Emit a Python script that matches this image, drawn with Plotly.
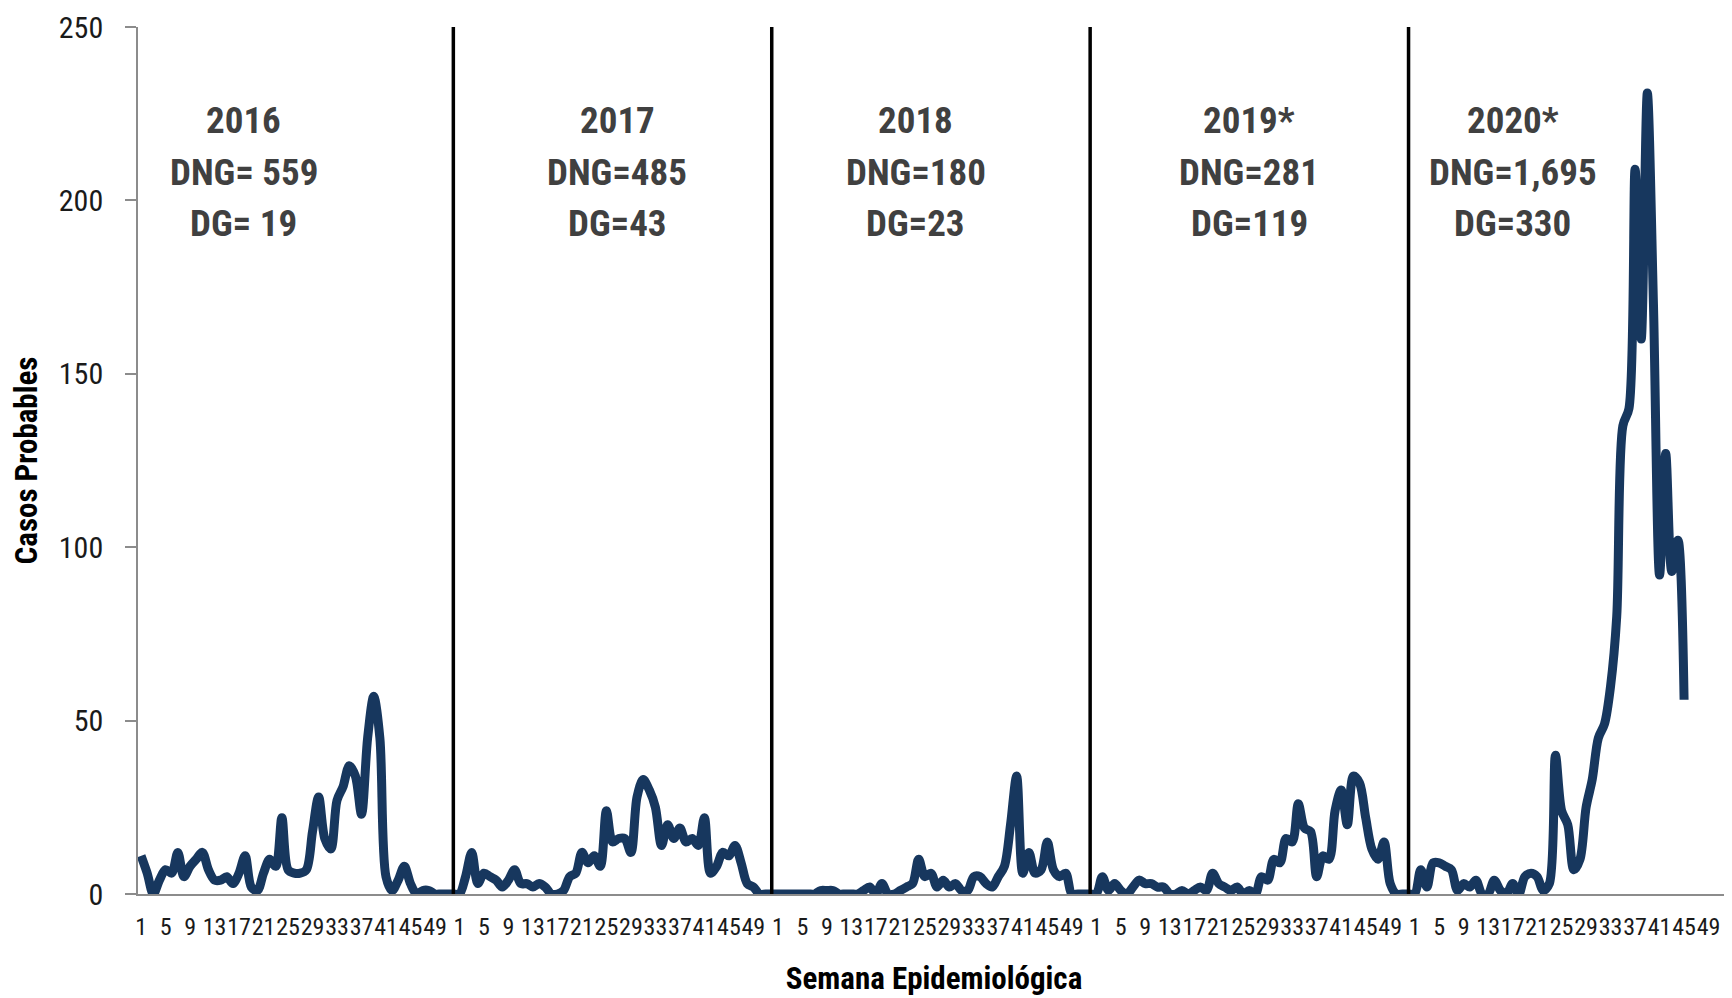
import plotly.graph_objects as go

# Weekly probable cases per year (epidemiological weeks)
years = ["2016", "2017", "2018", "2019*", "2020*"]
cases_2016 = [11, 6, 0, 4, 7, 6, 12, 5, 8, 10, 12, 7, 4, 4, 5, 3, 6, 11, 2, 1,
              6, 10, 8, 22, 7, 6, 6, 7, 18, 28, 16, 13, 27, 31, 37, 34, 23, 45, 57, 45,
              5, 1, 4, 8, 3, 0, 1, 1, 0, 0, 0, 0]
cases_2017 = [0, 5, 12, 3, 6, 5, 4, 2, 4, 7, 3, 3, 2, 3, 2, 0, 0, 1, 5, 6,
              12, 9, 11, 8, 24, 15, 16, 16, 12, 28, 33, 30, 25, 14, 20, 16, 19, 15, 16, 14,
              22, 6, 8, 12, 11, 14, 9, 3, 2, 0, 0, 0]
cases_2018 = [0, 0, 0, 0, 0, 0, 0, 1, 1, 1, 0, 0, 0, 0, 1, 2, 0, 3, 0, 0,
              1, 2, 3, 10, 5, 6, 2, 4, 2, 3, 1, 1, 5, 5, 3, 2, 5, 8, 20, 34,
              6, 12, 6, 7, 15, 7, 5, 6, 0, 0, 0, 0]
cases_2019 = [0, 5, 1, 3, 1, 0, 2, 4, 3, 3, 2, 2, 0, 0, 1, 0, 1, 2, 1, 6,
              3, 2, 1, 2, 0, 1, 0, 5, 4, 10, 9, 16, 15, 26, 19, 18, 5, 11, 10, 24,
              30, 20, 34, 32, 22, 13, 10, 15, 3, 0, 0, 0]
cases_2020 = [0, 7, 2, 9, 9, 8, 7, 1, 3, 2, 4, 0, 0, 4, 1, 0, 3, 0, 5, 6,
              5, 1, 3, 40, 24, 20, 7, 10, 25, 33, 45, 49, 60, 80, 135, 140, 209, 160, 231, 170,
              92, 127, 93, 102, 56]
weeks_per_year = 52
tick_weeks = [1, 5, 9, 13, 17, 21, 25, 29, 33, 37, 41, 45, 49]
labels_dng = ["559", "485", "180", "281", "1,695"]
labels_dg = ["19", "43", "23", "119", "330"]
label_sep = [" ", "", "", "", ""]
label_week = [17.8, 26.8, 23.5, 26, 17]
label_rows_y = [223, 208, 193.3]

series = [cases_2016, cases_2017, cases_2018, cases_2019, cases_2020]

xs, ys = [], []
for k, s in enumerate(series):
    for w in range(weeks_per_year):
        xs.append(k * weeks_per_year + w)
        ys.append(s[w] if w < len(s) else None)

tickvals, ticktext = [], []
for k in range(len(years)):
    for w in tick_weeks:
        tickvals.append(k * weeks_per_year + w - 1)
        ticktext.append(str(w))

FONT = "Roboto Condensed, Liberation Sans Narrow, Roboto, sans-serif"

fig = go.Figure()
fig.add_trace(go.Scatter(
    x=xs, y=ys, mode="lines",
    line=dict(color="#17375e", width=9, shape="spline", smoothing=0.9),
    connectgaps=False, showlegend=False, hoverinfo="x+y"))

# year separators at week 52 of each of the first four years
for k in range(1, len(years)):
    xv = k * weeks_per_year - 1
    fig.add_shape(type="line", xref="x", yref="y", x0=xv, x1=xv, y0=0, y1=252.5,
                  line=dict(color="black", width=3.5))

for k, yr in enumerate(years):
    seps = label_sep[k]
    rows = [yr, f"DNG={seps}{labels_dng[k]}", f"DG={seps}{labels_dg[k]}"]
    for row_text, row_y in zip(rows, label_rows_y):
        fig.add_annotation(x=k * weeks_per_year + label_week[k] - 1, y=row_y,
                           xref="x", yref="y", text=row_text, showarrow=False,
                           font=dict(family=FONT, size=37, color="#404040", weight="bold"),
                           align="center", yanchor="middle")

fig.update_layout(
    width=1732, height=998,
    margin=dict(l=130, r=10, t=19, b=112),
    plot_bgcolor="white", paper_bgcolor="white",
    font=dict(family=FONT, color="black"),
    xaxis=dict(range=[-0.5, len(years) * weeks_per_year - 0.5],
               tickmode="array", tickvals=tickvals, ticktext=ticktext,
               tickangle=0, automargin=False, ticklabelstandoff=10,
               tickfont=dict(size=24, color="#1a1a1a", family=FONT),
               showgrid=False, zeroline=False, showline=True, linecolor="#8c8c8c", linewidth=1.5,
               ticks="", ticklen=0,
               title=dict(text="Semana Epidemiológica", standoff=28,
                          font=dict(size=31, color="black", family=FONT, weight="bold"))),
    yaxis=dict(range=[0, 250], tickvals=[0, 50, 100, 150, 200, 250],
               automargin=False, ticklabelstandoff=16,
               tickfont=dict(size=30, color="#1a1a1a", family=FONT),
               showgrid=False, zeroline=False, showline=True, linecolor="#8c8c8c", linewidth=1.5,
               ticks="outside", ticklen=11, tickcolor="#8c8c8c", tickwidth=1.5,
               title=dict(text="Casos Probables", standoff=22,
                          font=dict(size=31, color="black", family=FONT, weight="bold"))),
)

fig.write_html("out.html")
